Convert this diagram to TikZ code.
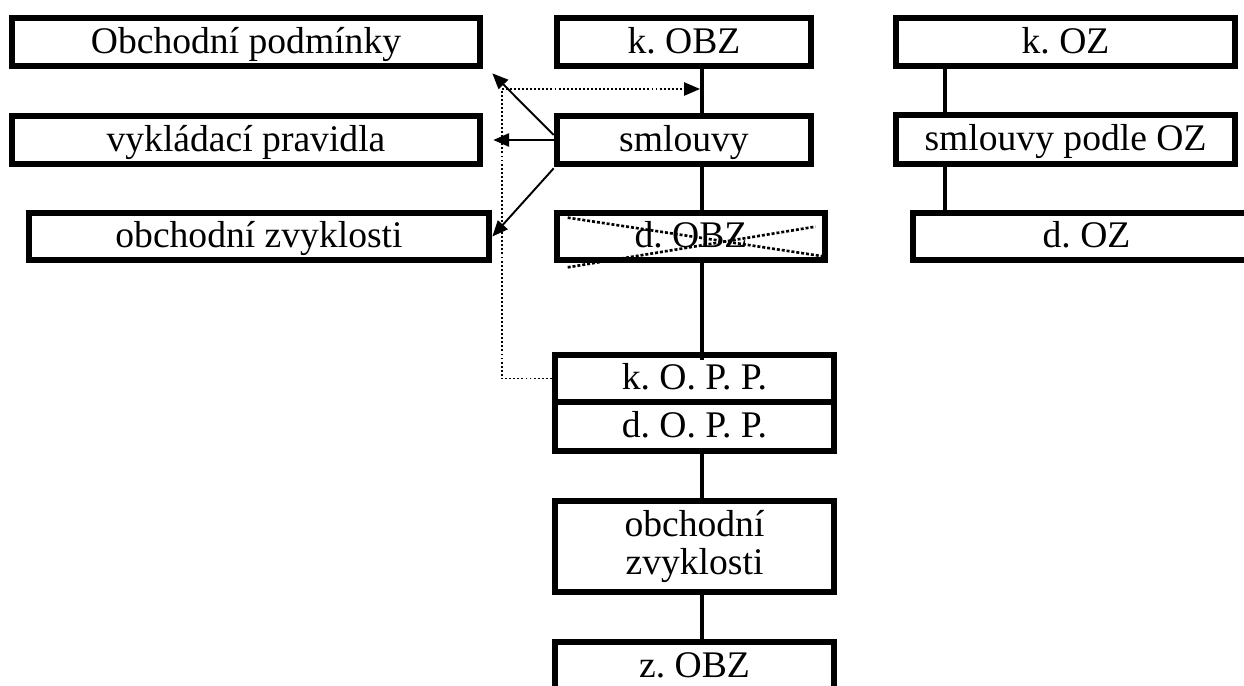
\documentclass[tikz,border=0pt]{standalone}
\usepackage{fontspec}
\setmainfont{Liberation Serif}
\usetikzlibrary{arrows.meta}

\tikzset{
	box/.style={draw,line width=3.8pt,inner sep=0pt,align=center,
		text height=15.5pt,text depth=2.9pt,
		font=\fontsize{21.4}{21.5}\selectfont\frenchspacing},
	tallbox/.style={box,text height=,text depth=},
	conn/.style={line width=2.8pt},
	arr/.style={line width=1.1pt,->},
	dots/.style={line width=0.85pt,dash pattern=on 1.1pt off 1.2pt},
	cross/.style={line width=1.5pt,dash pattern=on 1.7pt off 1.1pt}
}

\begin{document}
\begin{tikzpicture}[line join=miter,>={Triangle[length=9pt,width=7.5pt]},x=0.02cm,y=-0.02cm]
			\clip (0,0) rectangle (1244,686);
			% left column
			\node[box,minimum width=9.36cm,minimum height=0.96cm] (op) at (246,42) {Obchodní podmínky};
			\node[box,minimum width=9.36cm,minimum height=0.96cm] (vp) at (246,140) {vykládací pravidla};
			\node[box,minimum width=9.2cm,minimum height=0.94cm] (oz) at (259,236.5) {obchodní zvyklosti};
			% middle column
			\node[box,minimum width=5.08cm,minimum height=0.96cm] (kobz) at (684,42) {k. OBZ};
			\node[box,minimum width=5.08cm,minimum height=0.96cm] (sml) at (684,140) {smlouvy};
			\node[box,minimum width=5.36cm,minimum height=0.94cm] (dobz) at (691,236.5) {d. OBZ};
			\node[box,minimum width=5.58cm,minimum height=0.94cm] (kopp) at (694.5,378.5) {k. O. P. P.};
			\node[box,minimum width=5.58cm,minimum height=0.98cm] (dopp) at (694.5,426.5) {d. O. P. P.};
			\node[tallbox,minimum width=5.58cm,minimum height=1.82cm] (obzv) at (694.5,546.5) {obchodní\\zvyklosti};
			\node[box,minimum width=5.58cm,minimum height=0.96cm] (zobz) at (694.5,666) {z. OBZ};
			% right column
			\node[box,minimum width=6.78cm,minimum height=0.96cm] (koz) at (1065.5,42) {k. OZ};
			\node[box,minimum width=6.78cm,minimum height=0.98cm] (smoz) at (1065.5,139.5) {smlouvy podle OZ};
			\node[box,minimum width=6.94cm,minimum height=0.94cm] (doz) at (1086.5,236.5) {d. OZ};

			\coordinate (spine) at (702,0);
			\coordinate (spineoz) at (945,0);
			\coordinate (dotc) at (502,89);

			\draw[conn] (kobz.south -| spine) -- (sml.north -| spine);
			\draw[conn] (sml.south -| spine) -- (dobz.north -| spine);
			\draw[conn] (dobz.south -| spine) -- ([yshift=-0.16cm]kopp.north -| spine);
			\draw[conn] (dopp.south -| spine) -- (obzv.north -| spine);
			\draw[conn] (obzv.south -| spine) -- (zobz.north -| spine);
			\draw[conn] (koz.south -| spineoz) -- (smoz.north -| spineoz);
			\draw[conn] (smoz.south -| spineoz) -- (doz.north -| spineoz);

			\draw[arr] ([shift={(0,-5)}]sml.west) -- ([shift={(9,4)}]op.south east);
			\draw[arr] (sml.west) -- ([shift={(10,0)}]vp.east);
			\draw[arr] ([shift={(0,1)}]sml.south west) -- (oz.east);

			\draw[dots] (kopp.west) -| (dotc);
			\draw[dots,->] (dotc) -- ([shift={(-2,0)}]dotc -| spine);

			\draw[cross] ([shift={(14,8)}]dobz.north west) -- ([shift={(-5,-7)}]dobz.south east);
			\draw[cross] ([shift={(14,4)}]dobz.south west) -- ([shift={(-13,17)}]dobz.north east);
		\end{tikzpicture}
\end{document}
